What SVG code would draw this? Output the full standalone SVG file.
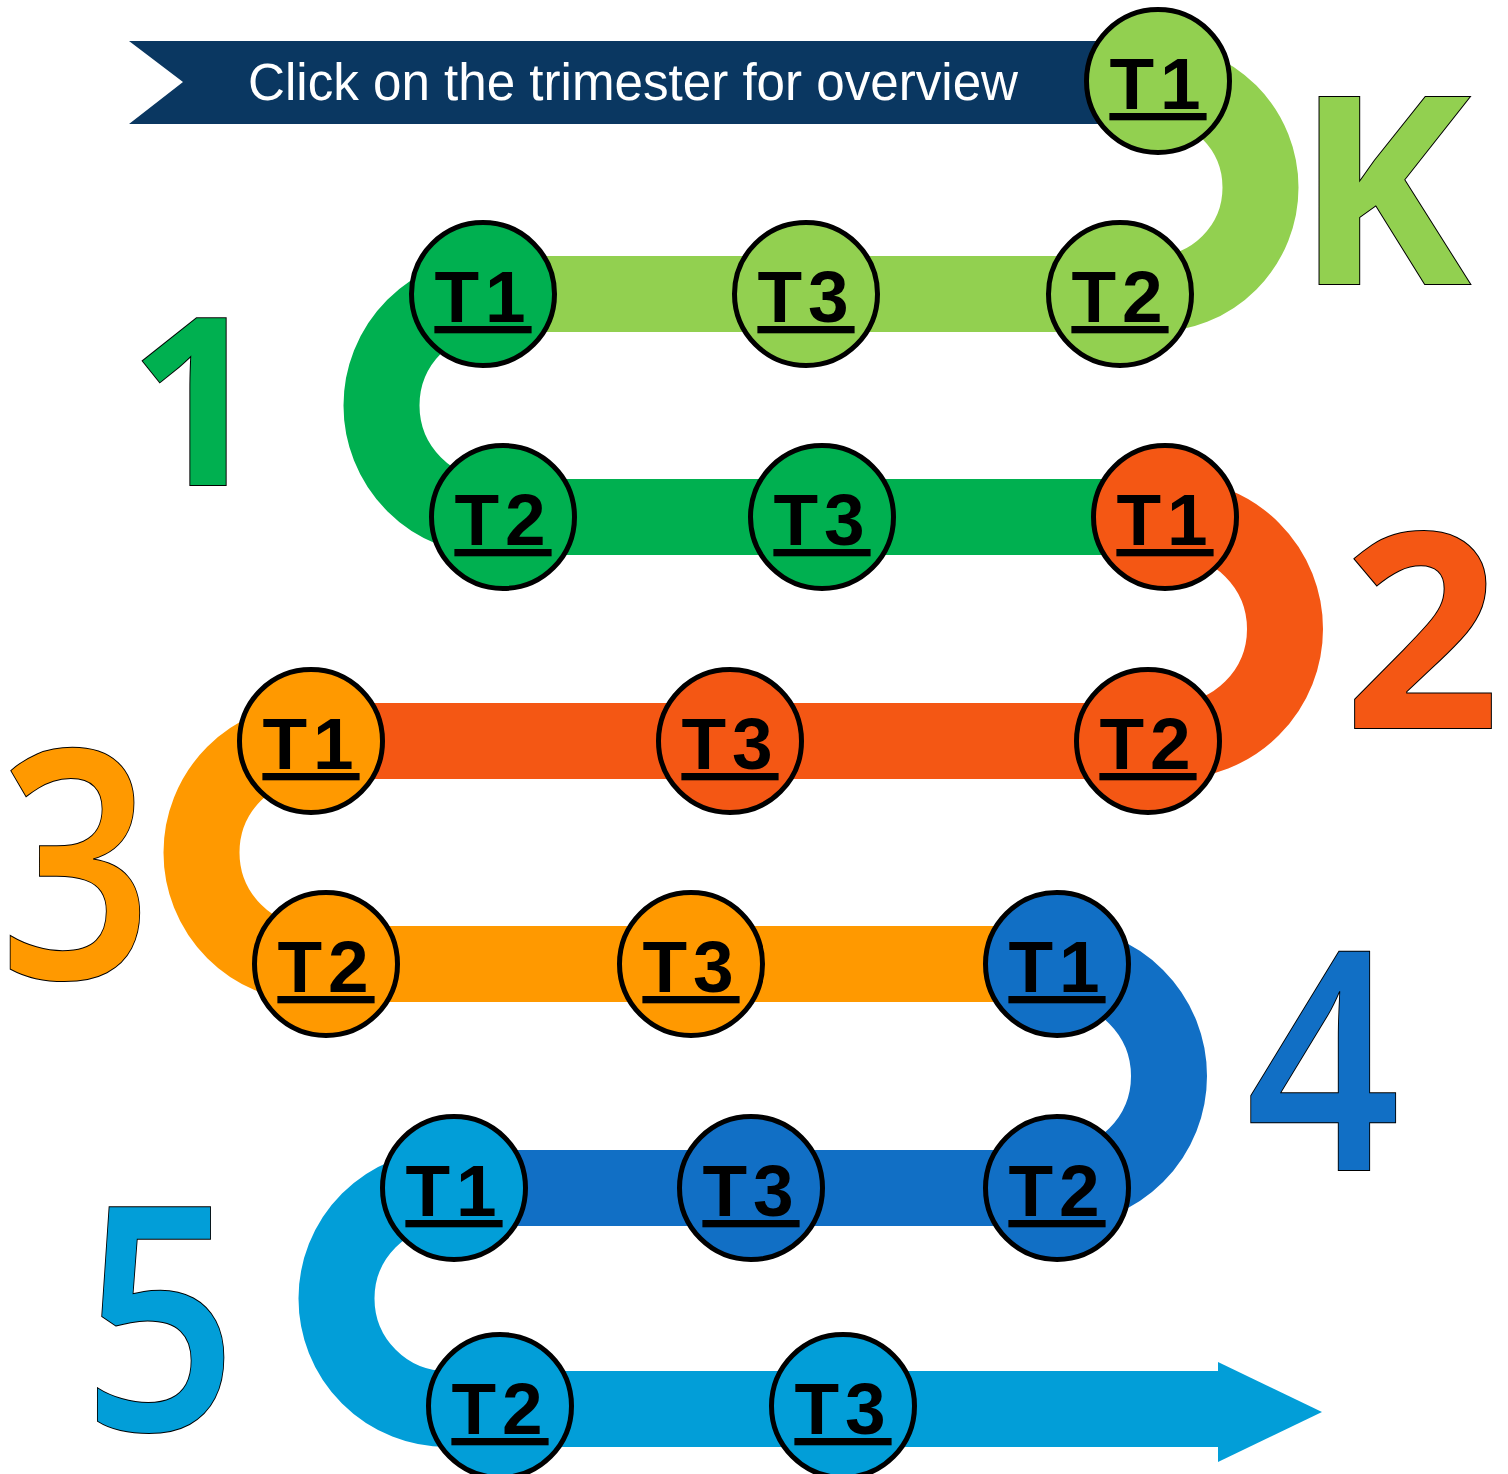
<svg xmlns="http://www.w3.org/2000/svg" width="1508" height="1474" viewBox="0 0 1508 1474">
<style>
.seg{fill:none;stroke-width:76;stroke-linecap:butt}
.node circle{stroke:#000;stroke-width:5}
.node text{font-family:"Liberation Sans",Arial,sans-serif;font-weight:bold;font-size:73px;letter-spacing:6px;text-anchor:middle;text-decoration:underline;text-decoration-thickness:4px;text-underline-offset:6px;fill:#000}
.big{font-family:"Open Sans","Liberation Sans",sans-serif;text-anchor:middle;stroke:#000;stroke-width:2;paint-order:stroke}
.lg{fill:#92D050}.g{fill:#00B050}.r{fill:#F45714}.o{fill:#FF9900}.b{fill:#116FC5}.lb{fill:#029ED8}
</style>
<rect width="1508" height="1474" fill="#fff"/>
<g id="connectors">
<path class="seg" stroke="#92D050" d="M1154 81 A106.5 106.5 0 0 1 1154 294 L483 294"/>
<path class="seg" stroke="#00B050" d="M493 294 A111.5 111.5 0 0 0 493 517 L1165 517"/>
<path class="seg" stroke="#F45714" d="M1173 517 A112 112 0 0 1 1173 741 L311 741"/>
<path class="seg" stroke="#FF9900" d="M313 741 A111.5 111.5 0 0 0 313 964 L1057 964"/>
<path class="seg" stroke="#116FC5" d="M1057 964 A112 112 0 0 1 1057 1188 L454 1188"/>
<path class="seg" stroke="#029ED8" d="M447 1188 A110.5 110.5 0 0 0 447 1409 L1220 1409"/>
<polygon fill="#029ED8" points="1218,1362 1322,1412 1218,1462"/>
</g>
<g id="banner">
<polygon fill="#0A3761" points="129,41 1110,41 1110,124 129,124 183,82"/>
<text x="248" y="100" font-family="Liberation Sans,Arial,sans-serif" font-size="51" fill="#fff" textLength="770" lengthAdjust="spacingAndGlyphs">Click on the trimester for overview</text>
</g>
<g id="node-K-T1" class="node"><circle class="lg" cx="1158" cy="81" r="71.5"/><text x="1158" y="109">T1</text></g>
<g id="node-K-T2" class="node"><circle class="lg" cx="1120" cy="294" r="71.5"/><text x="1120" y="322">T2</text></g>
<g id="node-K-T3" class="node"><circle class="lg" cx="806" cy="294" r="71.5"/><text x="806" y="322">T3</text></g>
<g id="node-1-T1" class="node"><circle class="g" cx="483" cy="294" r="71.5"/><text x="483" y="322">T1</text></g>
<g id="node-1-T2" class="node"><circle class="g" cx="503" cy="517" r="71.5"/><text x="503" y="545">T2</text></g>
<g id="node-1-T3" class="node"><circle class="g" cx="822" cy="517" r="71.5"/><text x="822" y="545">T3</text></g>
<g id="node-2-T1" class="node"><circle class="r" cx="1165" cy="517" r="71.5"/><text x="1165" y="545">T1</text></g>
<g id="node-2-T2" class="node"><circle class="r" cx="1148" cy="741" r="71.5"/><text x="1148" y="769">T2</text></g>
<g id="node-2-T3" class="node"><circle class="r" cx="730" cy="741" r="71.5"/><text x="730" y="769">T3</text></g>
<g id="node-3-T1" class="node"><circle class="o" cx="311" cy="741" r="71.5"/><text x="311" y="769">T1</text></g>
<g id="node-3-T2" class="node"><circle class="o" cx="326" cy="964" r="71.5"/><text x="326" y="992">T2</text></g>
<g id="node-3-T3" class="node"><circle class="o" cx="691" cy="964" r="71.5"/><text x="691" y="992">T3</text></g>
<g id="node-4-T1" class="node"><circle class="b" cx="1057" cy="964" r="71.5"/><text x="1057" y="992">T1</text></g>
<g id="node-4-T2" class="node"><circle class="b" cx="1057" cy="1188" r="71.5"/><text x="1057" y="1216">T2</text></g>
<g id="node-4-T3" class="node"><circle class="b" cx="751" cy="1188" r="71.5"/><text x="751" y="1216">T3</text></g>
<g id="node-5-T1" class="node"><circle class="lb" cx="454" cy="1188" r="71.5"/><text x="454" y="1216">T1</text></g>
<g id="node-5-T2" class="node"><circle class="lb" cx="500" cy="1406" r="71.5"/><text x="500" y="1434">T2</text></g>
<g id="node-5-T3" class="node"><circle class="lb" cx="843" cy="1406" r="71.5"/><text x="843" y="1434">T3</text></g>
<g id="grade-labels">
<text class="big lg" x="1383" y="284" font-size="262" font-weight="700">K</text>
<text class="big g" x="196" y="485" font-size="234" font-weight="700">1</text>
<text class="big r" x="1422" y="728" font-size="272" font-weight="700">2</text>
<text class="big o" x="76" y="978" font-size="318" font-weight="600" textLength="153" lengthAdjust="spacingAndGlyphs">3</text>
<text class="big b" x="1323" y="1170" font-size="305" font-weight="600" textLength="154" lengthAdjust="spacingAndGlyphs">4</text>
<text class="big lb" x="160" y="1430" font-size="312" font-weight="600" textLength="155" lengthAdjust="spacingAndGlyphs">5</text>
</g>
</svg>
